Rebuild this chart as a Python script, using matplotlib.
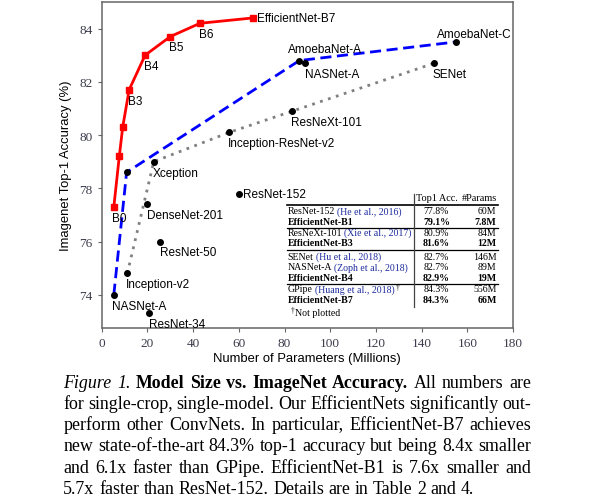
import matplotlib
matplotlib.use("Agg")
import matplotlib.pyplot as plt
from matplotlib.lines import Line2D

W, H = 591, 502

# EfficientNet family (red line)
eff_labels = ["B0", "", "", "B3", "B4", "B5", "B6", "EfficientNet-B7"]
eff_params = [5.3, 7.7, 9.2, 12, 19, 30, 43, 66]
eff_acc = [77.3, 79.2, 80.3, 81.7, 83.0, 83.7, 84.2, 84.4]

# NAS models (blue dashed line)
nas_labels = ["NASNet-A", "", "AmoebaNet-A", "AmoebaNet-C"]
nas_params = [5.3, 10.9, 86.5, 155]
nas_acc = [74.0, 78.6, 82.8, 83.5]

# hand-designed models (gray dotted line)
hand_labels = ["Inception-v2", "Xception", "Inception-ResNet-v2", "ResNeXt-101", "SENet"]
hand_params = [11.2, 22.8, 55.8, 83.5, 145.5]
hand_acc = [74.8, 79.0, 80.1, 80.9, 82.7]

# other single points
other_labels = ["NASNet-A", "DenseNet-201", "ResNet-50", "ResNet-152", "ResNet-34"]
other_params = [88.9, 20.0, 25.5, 60.1, 20.8]
other_acc = [82.7, 77.4, 76.0, 77.8, 73.3]

# table
tab_names = ["ResNet-152", "EfficientNet-B1", "ResNeXt-101", "EfficientNet-B3", "SENet",
             "NASNet-A", "EfficientNet-B4", "GPipe", "EfficientNet-B7"]
tab_cites = ["(He et al., 2016)", "", "(Xie et al., 2017)", "", "(Hu et al., 2018)",
             "(Zoph et al., 2018)", "", "(Huang et al., 2018)", ""]
tab_acc = ["77.8%", "79.1%", "80.9%", "81.6%", "82.7%", "82.7%", "82.9%", "84.3%", "84.3%"]
tab_params = ["60M", "7.8M", "84M", "12M", "146M", "89M", "19M", "556M", "66M"]

caption_lines = [
    [("Figure 1.", "italic", "normal"), ("Model Size vs.  ImageNet Accuracy.", "normal", "bold"),
     ("All numbers are", "normal", "normal")],
    [("for single-crop, single-model. Our EfficientNets significantly out-", "normal", "normal")],
    [("perform other ConvNets. In particular, EfficientNet-B7 achieves", "normal", "normal")],
    [("new state-of-the-art 84.3% top-1 accuracy but being 8.4x smaller", "normal", "normal")],
    [("and 6.1x faster than GPipe. EfficientNet-B1 is 7.6x smaller and", "normal", "normal")],
    [("5.7x faster than ResNet-152. Details are in Table 2 and 4.", "normal", "normal")],
]

SANS = "Liberation Sans"
SERIF = "Liberation Serif"

fig = plt.figure(figsize=(W / 100, H / 100), dpi=100)
ax = fig.add_axes([101.7 / W, 1 - 329 / H, (513 - 101.7) / W, (329 - 3) / H])


def px(x, y):
    return x / W, 1 - y / H


ax.plot(hand_params, hand_acc, color="#808080", lw=2, ls=(0, (1, 2)), zorder=2)
ax.plot(nas_params, nas_acc, color="#0000ff", lw=2, ls=(0, (4, 2)), zorder=2)
ax.plot(hand_params, hand_acc, "o", color="black", ms=4, zorder=4)
ax.plot(nas_params, nas_acc, "o", color="black", ms=4, zorder=4)
ax.plot(other_params, other_acc, "o", color="black", ms=4, zorder=4)
ax.plot(eff_params, eff_acc, "-s", color="#ff0000", lw=2, ms=5, zorder=5)

below = dict(textcoords="offset points", ha="left", va="top", fontsize=8.5, family=SANS)
for lab, x, y in zip(eff_labels[:-1], eff_params, eff_acc):
    if lab:
        ax.annotate(lab, (x, y), xytext=(-1, -3.5), **below)
ax.annotate(eff_labels[-1], (eff_params[-1], eff_acc[-1]), xytext=(3, 0),
            textcoords="offset points", ha="left", va="center", fontsize=8.5, family=SANS)

for lab, x, y in zip(hand_labels, hand_params, hand_acc):
    ax.annotate(lab, (x, y), xytext=(-1, -3.5), **below)

ax.annotate(nas_labels[0], (nas_params[0], nas_acc[0]), xytext=(-1, -3.5), **below)
ax.annotate(nas_labels[2], (nas_params[2], nas_acc[2]), xytext=(-8, 6.5),
            textcoords="offset points", ha="left", va="baseline", fontsize=8.5, family=SANS)
ax.annotate(nas_labels[3], (nas_params[3], nas_acc[3]), xytext=(-13.5, 3.8),
            textcoords="offset points", ha="left", va="baseline", fontsize=8.5, family=SANS)

for lab, x, y in zip(other_labels, other_params, other_acc):
    if lab == "ResNet-152":
        ax.annotate(lab, (x, y), xytext=(3, 0), textcoords="offset points",
                    ha="left", va="center", fontsize=8.5, family=SANS)
    else:
        ax.annotate(lab, (x, y), xytext=(0, -3.5), **below)

ax.set_xlim(0, 180)
ax.set_ylim(72.75, 85)
ax.set_xticks(range(0, 181, 20))
ax.set_yticks(range(74, 85, 2))
for lab in ax.get_xticklabels() + ax.get_yticklabels():
    lab.set_family(SERIF)
ax.tick_params(labelsize=9.5, labelcolor="#3c3c4c", color="#666666", length=3, width=0.8)
for s in ax.spines.values():
    s.set_color("#666666")
    s.set_linewidth(1.1)
ax.set_xlabel("Number of Parameters (Millions)", fontsize=9.4, family=SANS, labelpad=2)
ax.set_ylabel("Imagenet Top-1 Accuracy (%)", fontsize=9.4, family=SANS, labelpad=5)

# table
row_y = [212, 222.5, 233.5, 243.5, 257.5, 268, 278.5, 290, 300.5]
cite_color = "#1c2a9c"
fig.canvas.draw()
r = fig.canvas.get_renderer()
fig.text(*px(436.5, 199), "Top1 Acc.", family=SERIF, fontsize=7.4, ha="center", va="center")
fig.text(*px(497, 199), "#Params", family=SERIF, fontsize=7.4, ha="right", va="center")
for name, cite, acc, par, yy in zip(tab_names, tab_cites, tab_acc, tab_params, row_y):
    bold = name.startswith("EfficientNet")
    wt = "bold" if bold else "normal"
    t = fig.text(*px(287.5, yy), name, family=SERIF, fontsize=7.1, weight=wt, ha="left", va="center")
    if cite:
        wpx = t.get_window_extent(r).width
        c = fig.text(*px(287.5 + wpx + 2.2, yy), cite, family=SERIF, fontsize=7.1,
                     color=cite_color, ha="left", va="center")
        if name == "GPipe":
            cw = c.get_window_extent(r).width
            fig.text(*px(287.5 + wpx + 2.2 + cw + 2, yy - 2), "\u2020", family=SERIF,
                     fontsize=5.5, ha="left", va="center")
    fig.text(*px(436.5, yy), acc, family=SERIF, fontsize=7.1, weight=wt, ha="center", va="center")
    fig.text(*px(496.5, yy), par, family=SERIF, fontsize=7.1, weight=wt, ha="right", va="center")
fig.text(*px(291, 311), "\u2020", family=SERIF, fontsize=5.5, ha="left", va="center")
fig.text(*px(295, 313.5), "Not plotted", family=SERIF, fontsize=7.1, ha="left", va="center")

for yy, lw in [(206, 1.2), (229, 0.9), (251, 0.9), (285, 0.9)]:
    fig.add_artist(Line2D([287 / W, 498 / W], [1 - yy / H, 1 - yy / H], color="black", lw=lw))
fig.add_artist(Line2D([414 / W, 414 / W], [1 - 195 / H, 1 - 308 / H], color="#444444", lw=0.9))

# caption, justified by hand
cap_left, cap_right = 63.3, 531
cap_base = [387.7, 408.8, 430.1, 451.5, 472.8, 494.1]
cap_size = 12.9
probe_sp = fig.text(0, 0, "a a", family=SERIF, fontsize=cap_size)
probe_aa = fig.text(0, 0, "aa", family=SERIF, fontsize=cap_size)
space_w = probe_sp.get_window_extent(r).width - probe_aa.get_window_extent(r).width
probe_sp.remove()
probe_aa.remove()
for i, (segs, yb) in enumerate(zip(caption_lines, cap_base)):
    words = []
    for text, style, weight in segs:
        for wd in text.split():
            words.append((wd, style, weight))
    arts = []
    for wd, style, weight in words:
        t = fig.text(0, 0, wd, family=SERIF, fontsize=cap_size, style=style, weight=weight,
                     ha="left", va="baseline")
        arts.append(t)
    widths = [a.get_window_extent(r).width for a in arts]
    if i == len(caption_lines) - 1:
        gap = space_w
    else:
        gap = (cap_right - cap_left - sum(widths)) / (len(words) - 1)
    x = cap_left
    for a, w in zip(arts, widths):
        a.set_position(px(x, yb))
        x += w + gap

fig.savefig("out.png", dpi=100)
